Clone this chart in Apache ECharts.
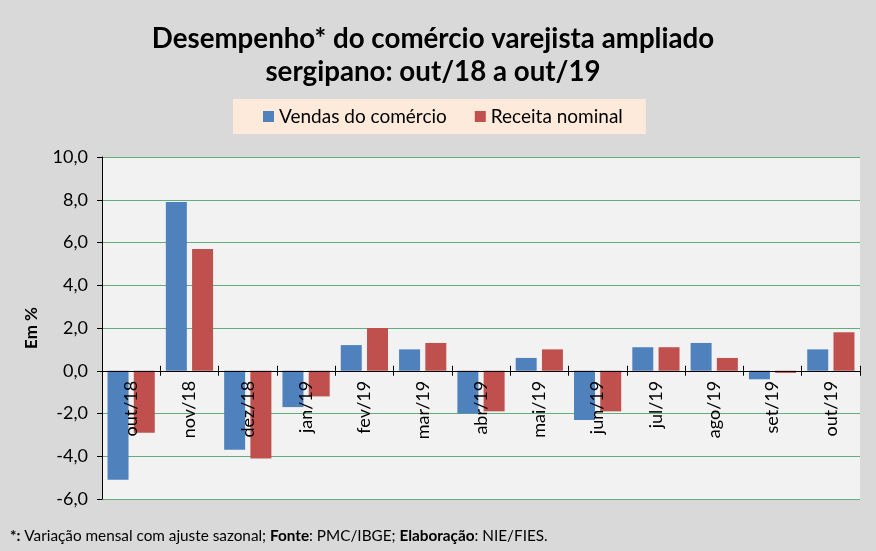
<!DOCTYPE html>
<html>
<head>
<meta charset="utf-8">
<script src="https://cdn.jsdelivr.net/npm/echarts@6/dist/echarts.min.js"></script>
<style>
  html, body { margin: 0; padding: 0; background: #d9d9d9; }
  #chart { width: 876px; height: 551px; }
</style>
</head>
<body>
<div id="chart"></div>
<script>
const months = ["out/18", "nov/18", "dez/18", "jan/19", "fev/19", "mar/19", "abr/19",
  "mai/19", "jun/19", "jul/19", "ago/19", "set/19", "out/19"];
const vendas = [-5.1, 7.9, -3.7, -1.7, 1.2, 1.0, -2.0, 0.6, -2.3, 1.1, 1.3, -0.4, 1.0];
const receita = [-2.9, 5.7, -4.1, -1.2, 2.0, 1.3, -1.9, 1.0, -1.9, 1.1, 0.6, -0.1, 1.8];
const yMin = -6, yMax = 10, yStep = 2;

const FONT = "Lato, 'Open Sans', sans-serif";
const fmt = v => v.toFixed(1).replace(".", ",");

const gridTop = 157, gridBottom = 52, H = 551;
const plotH = H - gridTop - gridBottom;
// move the category axis up to the zero line
const zeroOffset = -plotH * (0 - yMin) / (yMax - yMin);

const chart = echarts.init(document.getElementById("chart"));
chart.setOption({
  animation: false,
  backgroundColor: "#d9d9d9",
  textStyle: { fontFamily: FONT, color: "#000" },
  title: {
    text: "Desempenho* do comércio varejista ampliado\nsergipano: out/18 a out/19",
    left: 428,
    textAlign: "center",
    top: 18,
    textStyle: { fontFamily: FONT, fontSize: 27.7, fontWeight: "bold", lineHeight: 33, color: "#000" }
  },
  legend: {
    left: 233,
    top: 99,
    backgroundColor: "#fdeada",
    padding: [8, 23, 8, 30],
    itemWidth: 11,
    itemHeight: 11,
    itemGap: 28,
    icon: "rect",
    textStyle: { fontFamily: FONT, fontSize: 19, color: "#000" },
    data: ["Vendas do comércio", "Receita nominal"]
  },
  grid: { left: 102, right: 16, top: gridTop, bottom: gridBottom, show: true, backgroundColor: "#f2f2f2", borderWidth: 0 },
  xAxis: [
    {
      type: "category",
      data: months,
      offset: zeroOffset,
      z: 5,
      axisLine: { onZero: false, lineStyle: { color: "#000", width: 1.2 } },
      axisTick: { show: true, length: 5, lineStyle: { color: "#000" } },
      axisLabel: { rotate: 90, fontSize: 18, margin: 10, color: "#000", fontFamily: FONT }
    },
    {
      // upper half of the crossing ticks
      type: "category",
      data: months,
      position: "bottom",
      offset: zeroOffset,
      z: 5,
      axisLine: { show: false },
      axisTick: { show: true, inside: true, length: 5, lineStyle: { color: "#000" } },
      axisLabel: { show: false }
    }
  ],
  yAxis: {
    type: "value",
    min: yMin,
    max: yMax,
    interval: yStep,
    name: "Em %",
    nameLocation: "middle",
    nameRotate: 90,
    nameGap: 62,
    nameTextStyle: { fontFamily: FONT, fontSize: 17, fontWeight: "bold", color: "#000" },
    axisLine: { show: true, lineStyle: { color: "#000" } },
    axisTick: { show: true, length: 5, lineStyle: { color: "#000" } },
    axisLabel: { formatter: fmt, fontSize: 18, margin: 14, color: "#000", fontFamily: FONT },
    splitLine: { lineStyle: { color: "#5fae7e", width: 1.2 } }
  },
  series: [
    {
      name: "Vendas do comércio",
      type: "bar",
      data: vendas,
      itemStyle: { color: "#4f81bd" },
      barGap: "25%",
      barCategoryGap: "19%"
    },
    {
      name: "Receita nominal",
      type: "bar",
      data: receita,
      itemStyle: { color: "#c0504d" }
    }
  ],
  graphic: [
    {
      type: "text",
      left: 10,
      top: 529,
      style: {
        text: "{b|*:} Variação mensal com ajuste sazonal; {b|Fonte}: PMC/IBGE; {b|Elaboração}: NIE/FIES.",
        fontFamily: FONT,
        fontSize: 15.3,
        fill: "#000",
        rich: { b: { fontWeight: "bold", fontFamily: FONT, fontSize: 15.3 } }
      }
    }
  ]
});
</script>
</body>
</html>
